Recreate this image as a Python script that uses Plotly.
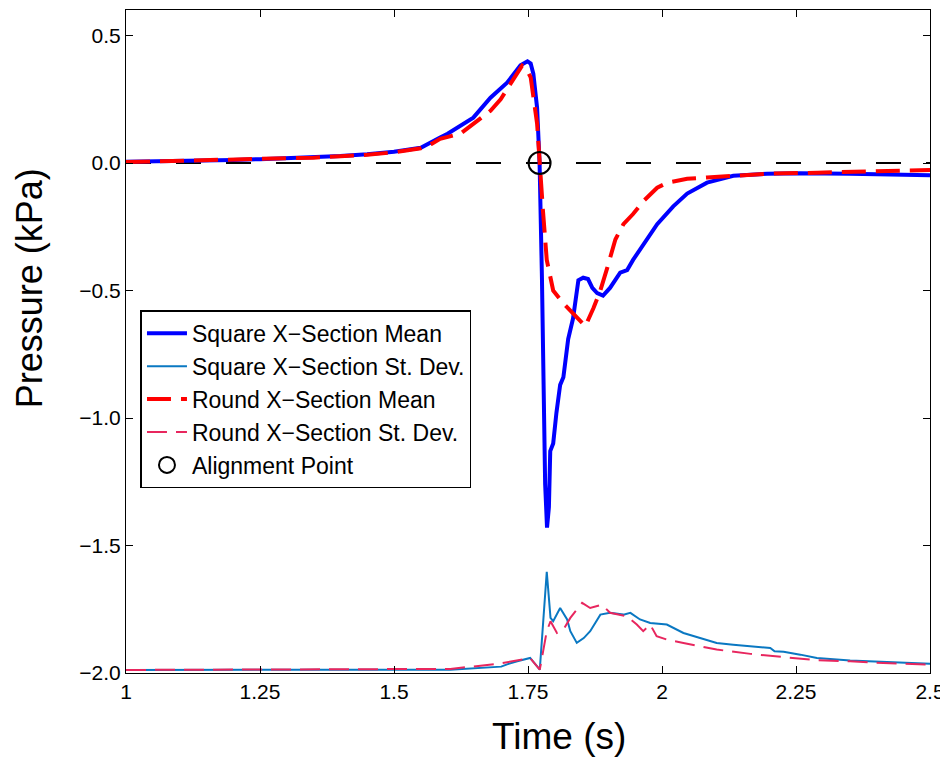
import plotly.graph_objects as go

# ---------------- data ----------------
sq_mean_t = [1.00, 1.05, 1.10, 1.15, 1.20, 1.25, 1.30, 1.35, 1.40, 1.45, 1.50, 1.55, 1.57, 1.586,
             1.60, 1.624, 1.648, 1.68, 1.711, 1.736, 1.749, 1.755, 1.760, 1.767, 1.7716, 1.776,
             1.782, 1.7855, 1.789, 1.7915, 1.797, 1.803, 1.810, 1.816, 1.825, 1.834, 1.844, 1.853,
             1.862, 1.870, 1.879, 1.890, 1.903, 1.922, 1.935, 1.946, 1.972, 1.991, 2.021, 2.047,
             2.084, 2.133, 2.196, 2.258, 2.35, 2.43, 2.50]
sq_mean_p = [0.005, 0.006, 0.008, 0.010, 0.012, 0.015, 0.018, 0.022, 0.027, 0.034, 0.044, 0.060, 0.080, 0.100,
             0.115, 0.146, 0.178, 0.256, 0.315, 0.383, 0.399, 0.390, 0.350, 0.216, 0.0, -0.45,
             -1.26, -1.43, -1.35, -1.13, -1.10, -0.98, -0.87, -0.84, -0.69, -0.61, -0.46, -0.45,
             -0.455, -0.49, -0.51, -0.52, -0.49, -0.43, -0.42, -0.38, -0.30, -0.24, -0.17, -0.12,
             -0.077, -0.050, -0.042, -0.040, -0.042, -0.045, -0.048]

rd_mean_t = [1.00, 1.05, 1.10, 1.15, 1.20, 1.25, 1.30, 1.35, 1.40, 1.45, 1.50, 1.55, 1.57, 1.586,
             1.624, 1.648, 1.68, 1.699, 1.717, 1.739, 1.745, 1.755, 1.767, 1.7716, 1.778, 1.785,
             1.797, 1.816, 1.834, 1.857, 1.872, 1.885, 1.898, 1.913, 1.928, 1.946, 1.965, 1.991,
             2.010, 2.047, 2.084, 2.133, 2.196, 2.29, 2.40, 2.50]
rd_mean_p = [0.004, 0.006, 0.008, 0.010, 0.012, 0.014, 0.017, 0.021, 0.026, 0.032, 0.042, 0.058, 0.075, 0.095,
             0.115, 0.154, 0.205, 0.250, 0.310, 0.382, 0.375, 0.336, 0.154, 0.0, -0.19, -0.38,
             -0.50, -0.55, -0.59, -0.64, -0.57, -0.50, -0.41, -0.30, -0.24, -0.20, -0.15, -0.097,
             -0.077, -0.062, -0.057, -0.050, -0.042, -0.038, -0.032, -0.027]

sq_std_t = [1.00, 1.25, 1.50, 1.605, 1.70, 1.711, 1.73, 1.754, 1.772, 1.776, 1.785, 1.792, 1.797,
            1.810, 1.823, 1.829, 1.841, 1.854, 1.866, 1.885, 1.903, 1.928, 1.941, 1.959, 1.978,
            2.009, 2.040, 2.071, 2.102, 2.133, 2.165, 2.202, 2.210, 2.227, 2.258, 2.289, 2.351,
            2.413, 2.50]
sq_std_p = [-1.988, -1.987, -1.987, -1.987, -1.975, -1.966, -1.954, -1.941, -1.987, -1.876, -1.603, -1.784, -1.797,
            -1.745, -1.790, -1.836, -1.882, -1.863, -1.836, -1.771, -1.764, -1.771, -1.764, -1.790, -1.804,
            -1.810, -1.843, -1.863, -1.882, -1.889, -1.895, -1.902, -1.915, -1.917, -1.928, -1.941, -1.951,
            -1.956, -1.964]

rd_std_t = [1.00, 1.25, 1.50, 1.605, 1.698, 1.73, 1.754, 1.772, 1.785, 1.792, 1.804, 1.816, 1.829,
            1.851, 1.866, 1.888, 1.903, 1.934, 1.953, 1.965, 1.978, 1.990, 2.009, 2.040, 2.071,
            2.102, 2.165, 2.227, 2.289, 2.351, 2.413, 2.50]
rd_std_p = [-1.988, -1.987, -1.986, -1.984, -1.963, -1.952, -1.941, -1.987, -1.836, -1.797, -1.843, -1.830, -1.784,
            -1.725, -1.745, -1.732, -1.764, -1.777, -1.810, -1.836, -1.810, -1.856, -1.869, -1.882, -1.895,
            -1.908, -1.925, -1.938, -1.950, -1.954, -1.961, -1.967]

zero_t = [1.0, 2.5]
zero_p = [0.0, 0.0]

align_t = [1.7716]
align_p = [0.0]

x_tick_vals = [1, 1.25, 1.5, 1.75, 2, 2.25, 2.5]
x_tick_text = ["1", "1.25", "1.5", "1.75", "2", "2.25", "2.5"]
y_tick_vals = [0.5, 0.0, -0.5, -1.0, -1.5, -2.0]
y_tick_text = ["0.5", "0.0", "\u22120.5", "\u22121.0", "\u22121.5", "\u22122.0"]

names = ["Square X\u2212Section Mean", "Square X\u2212Section St. Dev.",
         "Round X\u2212Section Mean", "Round X\u2212Section St. Dev.", "Alignment Point"]

FONT = "Liberation Sans, Arial, sans-serif"

fig = go.Figure()
fig.add_trace(go.Scatter(x=zero_t, y=zero_p, mode="lines", showlegend=False,
                         line=dict(color="black", width=1.8, dash="25px,25px"), hoverinfo="skip"))
fig.add_trace(go.Scatter(x=sq_mean_t, y=sq_mean_p, mode="lines", name=names[0],
                         line=dict(color="#0000FF", width=4)))
fig.add_trace(go.Scatter(x=sq_std_t, y=sq_std_p, mode="lines", name=names[1],
                         line=dict(color="#0A78C2", width=2)))
fig.add_trace(go.Scatter(x=rd_mean_t, y=rd_mean_p, mode="lines", name=names[2],
                         line=dict(color="#FF0000", width=4, dash="24px,10px")))
fig.add_trace(go.Scatter(x=rd_std_t, y=rd_std_p, mode="lines", name=names[3],
                         line=dict(color="#E8265E", width=2, dash="20px,9px")))
fig.add_trace(go.Scatter(x=align_t, y=align_p, mode="markers", name=names[4],
                         marker=dict(symbol="circle-open", size=22, color="black",
                                     line=dict(width=2, color="black"))))

axis_common = dict(showline=True, linecolor="black", linewidth=1, mirror="ticks",
                   ticks="inside", ticklen=7, tickcolor="black", tickwidth=1,
                   showgrid=False, zeroline=False,
                   tickfont=dict(family=FONT, size=21, color="black"))

fig.update_xaxes(range=[1, 2.5], tickvals=x_tick_vals, ticktext=x_tick_text, **axis_common)
fig.update_yaxes(range=[-2.0, 0.6], tickvals=y_tick_vals, ticktext=y_tick_text, **axis_common)

# the page body adds an 8px margin, so the figure is 8px smaller and margins shifted
fig.update_layout(
    width=940, height=751,
    margin=dict(l=117.5, r=18, t=1.5, b=86, pad=0),
    paper_bgcolor="white", plot_bgcolor="white",
    font=dict(family=FONT, color="black"),
    legend=dict(x=0.018, y=0.547, xanchor="left", yanchor="top",
                bgcolor="white", bordercolor="black", borderwidth=1.5,
                font=dict(family=FONT, size=23, color="black"),
                itemwidth=40),
    annotations=[
        dict(text="Time (s)", xref="paper", yref="paper", x=(558.5 - 125.5) / 804.5,
             y=(673 - 737) / 663.5, xanchor="center", yanchor="middle", showarrow=False,
             font=dict(family=FONT, size=37, color="black")),
        dict(text="Pressure (kPa)", xref="paper", yref="paper", x=(28.5 - 125.5) / 804.5,
             y=(673 - 288) / 663.5, xanchor="center", yanchor="middle", showarrow=False,
             textangle=-90, font=dict(family=FONT, size=36, color="black")),
    ],
)

fig.write_html("out.html")
